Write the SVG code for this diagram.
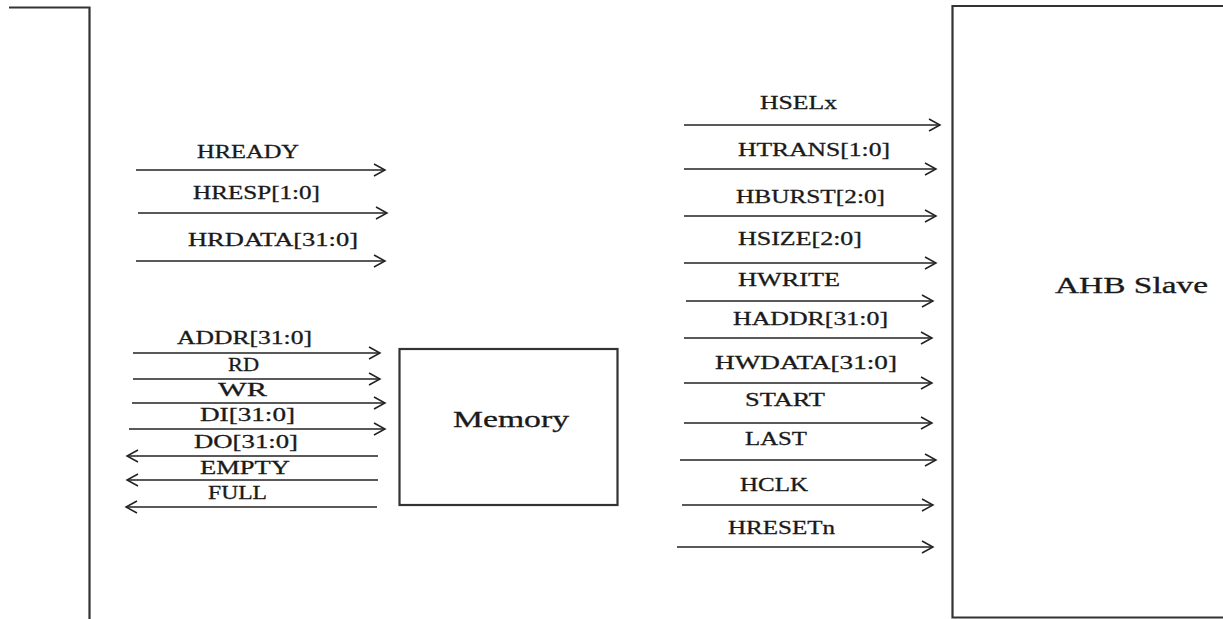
<svg xmlns="http://www.w3.org/2000/svg" width="1223" height="619" viewBox="0 0 1223 619">
<style>
.box{fill:none;stroke:#333;stroke-width:2.2}
.sig{stroke:#222;stroke-width:1.6;fill:none;marker-end:url(#arr)}
.lbl{font-family:"Liberation Serif","Times New Roman",serif;font-size:19px;fill:#1a1a1a;stroke:#1a1a1a;stroke-width:0.3}
.big{font-family:"Liberation Serif","Times New Roman",serif;font-size:23px;fill:#1a1a1a;stroke:#1a1a1a;stroke-width:0.3}
</style>
<defs>
<marker id="arr" markerUnits="userSpaceOnUse" markerWidth="14" markerHeight="14" refX="12" refY="7" orient="auto">
<path d="M1,1 L12,7 L1,13" fill="none" stroke="#222" stroke-width="1.5"/>
</marker>
</defs>
<rect width="1223" height="619" fill="#fff"/>
<g id="master">
<polyline class="box" points="9,7.5 89.5,7.5 89.5,619"/>
</g>
<g id="ahb-slave">
<polyline class="box" points="1223,6 952.5,6 952.5,617.5 1223,617.5"/>
<text class="big" x="1055" y="293" textLength="153" lengthAdjust="spacingAndGlyphs">AHB Slave</text>
</g>
<g id="memory">
<rect class="box" x="399.5" y="349" width="218" height="156"/>
<text class="big" x="453" y="427" textLength="116" lengthAdjust="spacingAndGlyphs">Memory</text>
</g>
<g id="connectors">
<line class="sig" x1="136" y1="170" x2="385" y2="170"/>
<line class="sig" x1="138" y1="213" x2="387" y2="213"/>
<line class="sig" x1="136" y1="261" x2="385" y2="261"/>
<line class="sig" x1="133" y1="353" x2="380" y2="353"/>
<line class="sig" x1="133" y1="379" x2="380" y2="379"/>
<line class="sig" x1="132" y1="403" x2="385" y2="403"/>
<line class="sig" x1="129" y1="429" x2="385" y2="429"/>
<line class="sig" x1="378" y1="456" x2="127" y2="456"/>
<line class="sig" x1="378" y1="480" x2="127" y2="480"/>
<line class="sig" x1="377" y1="507" x2="126" y2="507"/>
<line class="sig" x1="684" y1="125" x2="940" y2="125"/>
<line class="sig" x1="684" y1="169" x2="936" y2="169"/>
<line class="sig" x1="684" y1="216" x2="936" y2="216"/>
<line class="sig" x1="684" y1="263" x2="936" y2="263"/>
<line class="sig" x1="686" y1="301" x2="933" y2="301"/>
<line class="sig" x1="684" y1="338" x2="932" y2="338"/>
<line class="sig" x1="684" y1="383" x2="932" y2="383"/>
<line class="sig" x1="684" y1="423" x2="932" y2="423"/>
<line class="sig" x1="680" y1="460" x2="936" y2="460"/>
<line class="sig" x1="682" y1="505" x2="933" y2="505"/>
<line class="sig" x1="677" y1="547" x2="933" y2="547"/>
</g>
<g id="labels">
<text class="lbl" x="197" y="158" textLength="102" lengthAdjust="spacingAndGlyphs">HREADY</text>
<text class="lbl" x="193" y="199" textLength="127" lengthAdjust="spacingAndGlyphs">HRESP[1:0]</text>
<text class="lbl" x="188" y="246" textLength="170" lengthAdjust="spacingAndGlyphs">HRDATA[31:0]</text>
<text class="lbl" x="177" y="344" textLength="135" lengthAdjust="spacingAndGlyphs">ADDR[31:0]</text>
<text class="lbl" x="228" y="371" textLength="31" lengthAdjust="spacingAndGlyphs">RD</text>
<text class="lbl" x="218" y="396" textLength="49" lengthAdjust="spacingAndGlyphs">WR</text>
<text class="lbl" x="200" y="421" textLength="95" lengthAdjust="spacingAndGlyphs">DI[31:0]</text>
<text class="lbl" x="194" y="448" textLength="104" lengthAdjust="spacingAndGlyphs">DO[31:0]</text>
<text class="lbl" x="200" y="474" textLength="90" lengthAdjust="spacingAndGlyphs">EMPTY</text>
<text class="lbl" x="208" y="499" textLength="59" lengthAdjust="spacingAndGlyphs">FULL</text>
<text class="lbl" x="760" y="109" textLength="77" lengthAdjust="spacingAndGlyphs">HSELx</text>
<text class="lbl" x="738" y="156" textLength="152" lengthAdjust="spacingAndGlyphs">HTRANS[1:0]</text>
<text class="lbl" x="736" y="203" textLength="149" lengthAdjust="spacingAndGlyphs">HBURST[2:0]</text>
<text class="lbl" x="738" y="245" textLength="124" lengthAdjust="spacingAndGlyphs">HSIZE[2:0]</text>
<text class="lbl" x="738" y="286" textLength="102" lengthAdjust="spacingAndGlyphs">HWRITE</text>
<text class="lbl" x="733" y="325" textLength="155" lengthAdjust="spacingAndGlyphs">HADDR[31:0]</text>
<text class="lbl" x="715" y="369" textLength="182" lengthAdjust="spacingAndGlyphs">HWDATA[31:0]</text>
<text class="lbl" x="745" y="406" textLength="80" lengthAdjust="spacingAndGlyphs">START</text>
<text class="lbl" x="745" y="445" textLength="62" lengthAdjust="spacingAndGlyphs">LAST</text>
<text class="lbl" x="740" y="491" textLength="68" lengthAdjust="spacingAndGlyphs">HCLK</text>
<text class="lbl" x="728" y="534" textLength="107" lengthAdjust="spacingAndGlyphs">HRESETn</text>
</g>
</svg>
